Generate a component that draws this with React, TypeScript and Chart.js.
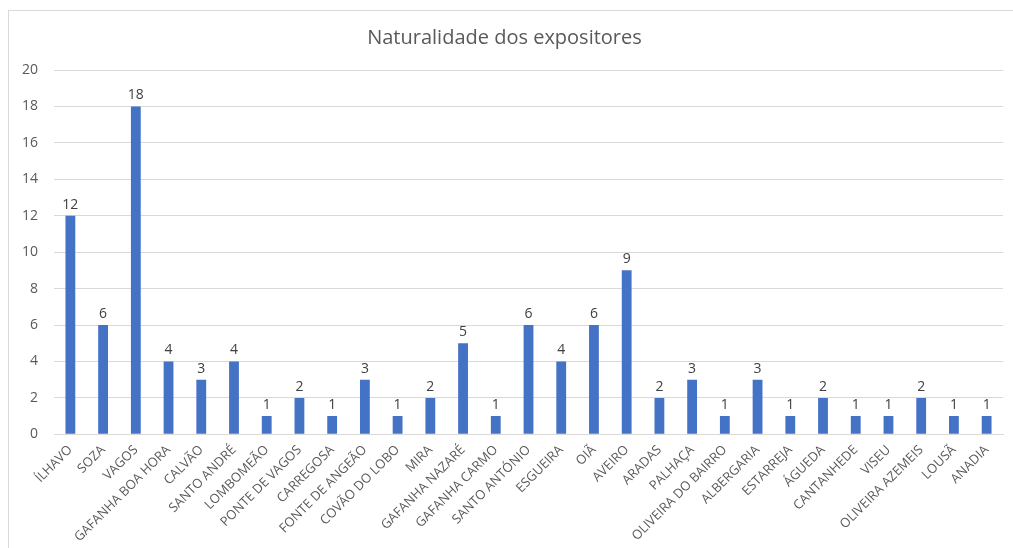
import React, { useEffect, useRef } from "react";
import { Chart, registerables } from "chart.js";

Chart.register(...registerables);

const categories: string[] = [
  "ÍLHAVO", "SOZA", "VAGOS", "GAFANHA BOA HORA", "CALVÃO", "SANTO ANDRÉ", "LOMBOMEÃO",
  "PONTE DE VAGOS", "CARREGOSA", "FONTE DE ANGEÃO", "COVÃO DO LOBO", "MIRA",
  "GAFANHA NAZARÉ", "GAFANHA CARMO", "SANTO ANTÓNIO", "ESGUEIRA", "OIÃ", "AVEIRO",
  "ARADAS", "PALHAÇA", "OLIVEIRA DO BAIRRO", "ALBERGARIA", "ESTARREJA", "ÁGUEDA",
  "CANTANHEDE", "VISEU", "OLIVEIRA AZEMEIS", "LOUSÃ", "ANADIA",
];
const values: number[] = [
  12, 6, 18, 4, 3, 4, 1, 2, 1, 3, 1, 2, 5, 1, 6, 4, 6, 9, 2, 3, 1, 3, 1, 2, 1, 1, 2, 1, 1,
];
const title = "Naturalidade dos expositores";

const FONT = "'Open Sans', 'Noto Sans', sans-serif";

const frame = {
  id: "frame",
  beforeDraw(chart: any) {
    const ctx = chart.ctx;
    ctx.save();
    ctx.fillStyle = "#ffffff";
    ctx.fillRect(0, 0, chart.width, chart.height);
    ctx.strokeStyle = "#d9d9d9";
    ctx.lineWidth = 1;
    ctx.strokeRect(8.5, 10.5, chart.width, chart.height);
    ctx.restore();
  },
};

const valueLabels = {
  id: "valueLabels",
  afterDatasetsDraw(chart: any) {
    const ctx = chart.ctx;
    const meta = chart.getDatasetMeta(0);
    ctx.save();
    ctx.font = `14px ${FONT}`;
    ctx.fillStyle = "#404040";
    ctx.textAlign = "center";
    ctx.textBaseline = "bottom";
    meta.data.forEach((bar: any, i: number) => {
      ctx.fillText(String(values[i]), bar.x, bar.y - 4);
    });
    ctx.restore();
  },
};

export default function App() {
  const ref = useRef<HTMLCanvasElement>(null);
  useEffect(() => {
    if (!ref.current) return;
    const chart = new Chart(ref.current, {
      type: "bar",
      data: {
        labels: categories,
        datasets: [
          {
            data: values,
            backgroundColor: "#4472C4",
            barPercentage: 0.6,
            categoryPercentage: 0.5,
          },
        ],
      },
      options: {
        animation: false,
        responsive: false,
        layout: { padding: { left: 6, right: 10, top: 20, bottom: 3 } },
        plugins: {
          legend: { display: false },
          tooltip: { enabled: false },
          title: {
            display: true,
            text: title,
            color: "#595959",
            font: { family: FONT, size: 20, weight: "normal" },
            padding: { top: 6, bottom: 20 },
          },
        },
        scales: {
          x: {
            grid: { display: false },
            border: { color: "#d9d9d9" },
            ticks: {
              autoSkip: false,
              maxRotation: 45,
              minRotation: 45,
              color: "#595959",
              font: { family: FONT, size: 13 },
              padding: 0,
            },
          },
          y: {
            min: 0,
            max: 20,
            grid: { color: "#d9d9d9", drawTicks: false },
            border: { display: false },
            ticks: {
              stepSize: 2,
              color: "#595959",
              font: { family: FONT, size: 14 },
              padding: 16,
            },
          },
        },
      },
      plugins: [frame, valueLabels],
    });
    return () => chart.destroy();
  }, []);
  return (
    <canvas
      ref={ref}
      width={1013}
      height={548}
      style={{ position: "absolute", left: 0, top: 0, width: 1013, height: 548 }}
    />
  );
}
